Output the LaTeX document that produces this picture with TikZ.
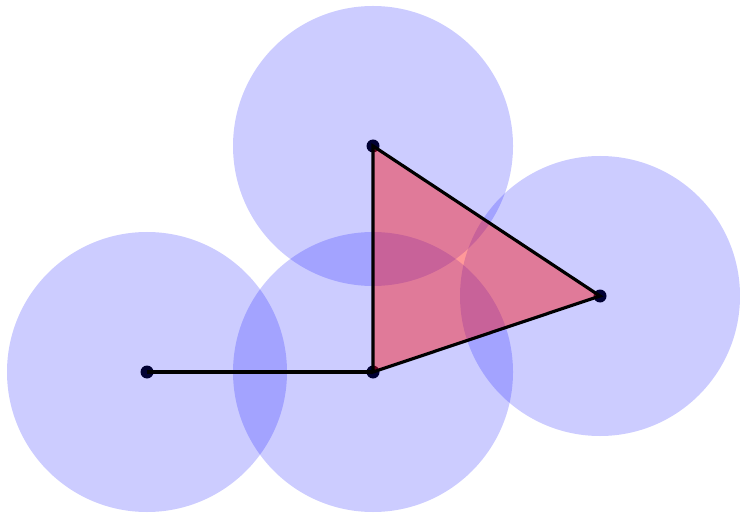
\documentclass[tikz,border=0pt]{standalone}
\begin{document}
\begin{tikzpicture}
        \useasboundingbox (0,0) rectangle (7.4,5.14);
        %punti
        \coordinate (a) at (1.47,1.42);
        \coordinate (b) at (3.73,1.42);
        \coordinate (c) at (3.73,3.68);
        \coordinate (d) at (6.00,2.18);
        \foreach \p in {a,b,c,d}
            \fill (\p) circle (0.065); %disegno punti
        %disegno dischi
        \foreach \p in {a,b,c,d}
            \fill[blue,opacity=0.2] (\p) circle (1.40);
        %disegno triangolo
        \fill[red,opacity=0.4] (b)--(c)--(d)--cycle;
        \draw[line width=0.9pt] (b)--(c)--(d)--cycle;
        \draw[line width=0.9pt] (a)--(b); %lato
\end{tikzpicture}
\end{document}
